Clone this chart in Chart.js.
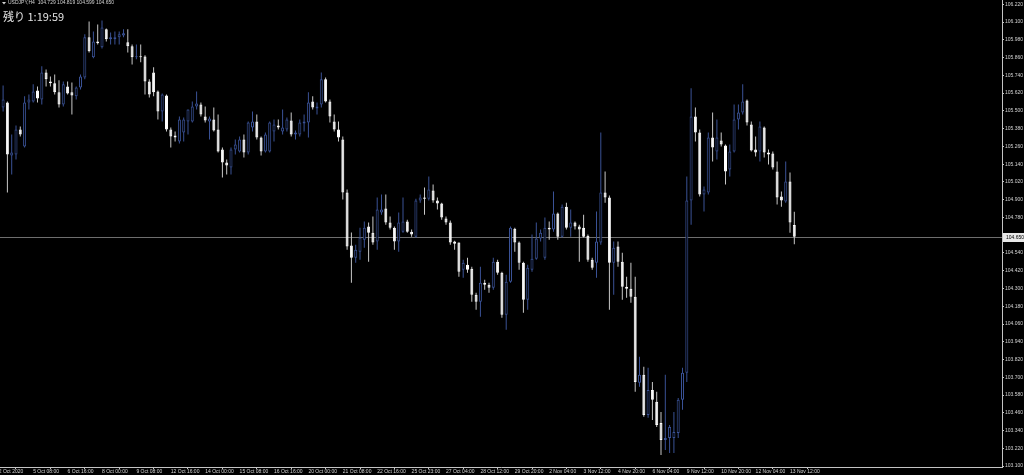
<!DOCTYPE html>
<html lang="ja">
<head>
  <meta charset="UTF-8" />
  <title>USDJPY,H4</title>
  <script src="https://cdn.jsdelivr.net/npm/chart.js"></script>
  <style>
    body {
      margin: 0;
      background: #000;
      overflow: hidden;
    }
    canvas {
      display: block;
    }
  </style>
</head>
<body>
  <canvas id="chart" width="1024" height="475"></canvas>

  <script>
    // USDJPY H4 candles, bar index 1 .. 185 (bar 0 is off the left edge)
    const firstBar = 1;

    const opens = [
      105.523, 105.557, 105.198, 105.205, 105.374, 105.259, 105.557, 105.563, 105.638, 105.577,
      105.760, 105.699, 105.686, 105.625, 105.543, 105.665, 105.625, 105.598, 105.658, 105.726,
      105.997, 105.862, 105.969, 105.929, 106.051, 105.983, 105.983, 105.997, 106.010, 105.963,
      105.936, 105.862, 105.868, 105.868, 105.699, 105.760, 105.631, 105.496, 105.604, 105.374,
      105.334, 105.293, 105.354, 105.428, 105.428, 105.530, 105.543, 105.462, 105.428, 105.442,
      105.374, 105.239, 105.151, 105.117, 105.239, 105.225, 105.307, 105.219, 105.388, 105.428,
      105.320, 105.225, 105.225, 105.361, 105.401, 105.361, 105.374, 105.435, 105.340, 105.340,
      105.415, 105.421, 105.563, 105.516, 105.543, 105.713, 105.563, 105.428, 105.374, 105.307,
      104.948, 104.590, 104.508, 104.549, 104.630, 104.718, 104.677, 104.617, 104.813, 104.840,
      104.745, 104.711, 104.617, 104.684, 104.752, 104.684, 104.650, 104.894, 104.914, 104.907,
      104.962, 104.894, 104.874, 104.772, 104.745, 104.617, 104.610, 104.427, 104.461, 104.434,
      104.258, 104.211, 104.339, 104.326, 104.305, 104.481, 104.407, 104.123, 104.346, 104.704,
      104.610, 104.474, 104.224, 104.427, 104.501, 104.637, 104.508, 104.711, 104.698, 104.806,
      104.650, 104.853, 104.711, 104.745, 104.718, 104.711, 104.657, 104.495, 104.474, 104.610,
      104.948, 104.914, 104.474, 104.583, 104.481, 104.312, 104.299, 104.245, 103.663, 103.717,
      103.446, 103.615, 103.534, 103.392, 103.277, 103.290, 103.290, 103.324, 103.548, 103.730,
      104.894, 105.462, 105.354, 104.935, 104.948, 105.320, 105.225, 105.300, 105.266, 105.104,
      105.225, 105.442, 105.489, 105.570, 105.408, 105.239, 105.225, 105.388, 105.219, 105.212,
      105.090, 104.921, 104.887, 105.022, 104.729
    ];

    const highs = [
      105.672, 105.563, 105.340, 105.401, 105.394, 105.598, 105.611, 105.679, 105.665, 105.801,
      105.780, 105.733, 105.746, 105.706, 105.699, 105.699, 105.692, 105.665, 105.746, 106.017,
      106.104, 106.037, 106.084, 106.111, 106.057, 106.030, 106.037, 106.037, 106.051, 106.051,
      105.949, 105.949, 105.949, 105.875, 105.713, 105.794, 105.638, 105.618, 105.611, 105.388,
      105.361, 105.462, 105.455, 105.510, 105.563, 105.631, 105.557, 105.530, 105.462, 105.523,
      105.476, 105.252, 105.171, 105.252, 105.307, 105.327, 105.340, 105.428, 105.496, 105.476,
      105.327, 105.354, 105.428, 105.442, 105.442, 105.510, 105.455, 105.489, 105.367, 105.442,
      105.476, 105.625, 105.598, 105.557, 105.760, 105.726, 105.577, 105.476, 105.428, 105.327,
      104.968, 104.678, 104.596, 104.711, 104.752, 104.745, 104.786, 104.914, 104.935, 104.935,
      104.786, 104.718, 104.813, 104.914, 104.765, 104.698, 104.907, 104.935, 104.982, 105.056,
      105.002, 104.914, 104.880, 104.786, 104.759, 104.623, 104.610, 104.495, 104.508, 104.447,
      104.272, 104.447, 104.359, 104.339, 104.508, 104.495, 104.413, 104.393, 104.718, 104.711,
      104.617, 104.481, 104.461, 104.664, 104.745, 104.698, 104.779, 104.752, 104.955, 104.813,
      104.867, 104.880, 104.833, 104.752, 104.731, 104.799, 104.664, 104.508, 104.820, 105.354,
      105.090, 104.928, 104.617, 104.617, 104.542, 104.380, 104.474, 104.380, 103.838, 103.771,
      103.764, 103.669, 103.602, 103.466, 103.717, 103.378, 103.466, 103.561, 103.764, 105.056,
      105.652, 105.523, 105.374, 104.989, 105.354, 105.489, 105.442, 105.354, 105.273, 105.273,
      105.543, 105.543, 105.679, 105.577, 105.428, 105.327, 105.428, 105.394, 105.239, 105.225,
      105.158, 104.955, 105.158, 105.083, 104.819
    ];

    const lows = [
      105.496, 104.948, 105.070, 105.171, 105.327, 105.252, 105.510, 105.557, 105.557, 105.543,
      105.665, 105.665, 105.611, 105.523, 105.530, 105.611, 105.476, 105.577, 105.645, 105.713,
      105.895, 105.855, 105.949, 105.922, 105.969, 105.949, 105.949, 105.949, 105.997, 105.895,
      105.814, 105.848, 105.828, 105.611, 105.591, 105.598, 105.442, 105.428, 105.361, 105.252,
      105.293, 105.279, 105.293, 105.340, 105.421, 105.510, 105.462, 105.421, 105.307, 105.361,
      105.219, 105.050, 105.070, 105.070, 105.205, 105.219, 105.185, 105.205, 105.361, 105.307,
      105.198, 105.219, 105.219, 105.293, 105.374, 105.340, 105.361, 105.327, 105.307, 105.327,
      105.361, 105.320, 105.510, 105.476, 105.523, 105.557, 105.421, 105.361, 105.293, 104.901,
      104.562, 104.339, 104.474, 104.495, 104.576, 104.481, 104.596, 104.562, 104.799, 104.731,
      104.698, 104.562, 104.549, 104.677, 104.677, 104.650, 104.644, 104.880, 104.799, 104.894,
      104.880, 104.833, 104.765, 104.731, 104.596, 104.562, 104.380, 104.373, 104.407, 104.211,
      104.156, 104.109, 104.292, 104.272, 104.292, 104.393, 104.102, 104.021, 104.339, 104.549,
      104.427, 104.136, 104.156, 104.413, 104.495, 104.617, 104.495, 104.630, 104.684, 104.630,
      104.644, 104.698, 104.650, 104.698, 104.481, 104.644, 104.481, 104.427, 104.373, 104.596,
      104.880, 104.156, 104.258, 104.447, 104.224, 104.238, 104.204, 103.602, 103.636, 103.433,
      103.426, 103.412, 103.365, 103.175, 103.209, 103.189, 103.189, 103.290, 103.480, 103.669,
      104.731, 105.293, 104.921, 104.820, 104.935, 105.158, 105.171, 105.259, 105.002, 105.056,
      105.219, 105.374, 105.476, 105.401, 105.225, 105.192, 105.158, 105.185, 105.137, 105.104,
      104.867, 104.853, 104.880, 104.677, 104.599
    ];

    const closes = [
      105.577, 105.205, 105.219, 105.374, 105.340, 105.557, 105.577, 105.631, 105.584, 105.760,
      105.713, 105.686, 105.625, 105.543, 105.679, 105.618, 105.604, 105.658, 105.733, 105.997,
      105.902, 105.969, 105.956, 106.064, 105.983, 105.997, 105.997, 106.017, 106.024, 105.936,
      105.862, 105.868, 105.862, 105.699, 105.611, 105.625, 105.496, 105.611, 105.374, 105.327,
      105.320, 105.442, 105.442, 105.510, 105.530, 105.550, 105.476, 105.435, 105.449, 105.367,
      105.225, 105.151, 105.131, 105.239, 105.273, 105.307, 105.219, 105.421, 105.428, 105.320,
      105.225, 105.340, 105.421, 105.408, 105.388, 105.388, 105.442, 105.340, 105.354, 105.421,
      105.428, 105.557, 105.523, 105.530, 105.713, 105.563, 105.462, 105.374, 105.320, 104.948,
      104.583, 104.508, 104.562, 104.644, 104.711, 104.677, 104.610, 104.833, 104.833, 104.745,
      104.711, 104.617, 104.745, 104.752, 104.684, 104.664, 104.894, 104.914, 104.907, 104.968,
      104.894, 104.874, 104.779, 104.745, 104.610, 104.603, 104.413, 104.474, 104.427, 104.258,
      104.211, 104.339, 104.326, 104.305, 104.481, 104.407, 104.123, 104.346, 104.711, 104.610,
      104.474, 104.224, 104.440, 104.501, 104.637, 104.677, 104.711, 104.698, 104.806, 104.650,
      104.853, 104.711, 104.745, 104.718, 104.698, 104.650, 104.495, 104.440, 104.617, 104.948,
      104.914, 104.474, 104.576, 104.481, 104.312, 104.299, 104.245, 103.669, 103.717, 103.446,
      103.615, 103.548, 103.378, 103.277, 103.290, 103.365, 103.331, 103.548, 103.730, 104.894,
      105.462, 105.354, 104.935, 104.968, 105.320, 105.252, 105.320, 105.273, 105.090, 105.225,
      105.442, 105.489, 105.563, 105.421, 105.232, 105.219, 105.394, 105.219, 105.205, 105.117,
      104.914, 104.894, 105.022, 104.745, 104.650
    ];

    // time axis: one label every 8 bars, starting at bar 0
    const timeLabels = [
      '2 Oct 2020', '5 Oct 08:00', '6 Oct 16:00', '8 Oct 00:00', '9 Oct 08:00', '12 Oct 16:00',
      '14 Oct 00:00', '15 Oct 08:00', '16 Oct 16:00', '20 Oct 00:00', '21 Oct 08:00', '22 Oct 16:00',
      '25 Oct 23:00', '27 Oct 04:00', '28 Oct 12:00', '29 Oct 20:00', '2 Nov 04:00', '3 Nov 12:00',
      '4 Nov 20:00', '6 Nov 04:00', '9 Nov 12:00', '10 Nov 20:00', '12 Nov 04:00', '13 Nov 12:00'
    ];
    const labelEvery = 8;

    // price axis (104.660 sits under the bid box)
    const priceTicks = [
      106.220, 106.100, 105.980, 105.860, 105.740, 105.620, 105.500, 105.380, 105.260,
      105.140, 105.020, 104.900, 104.780, 104.540, 104.420, 104.300, 104.180, 104.060,
      103.940, 103.820, 103.700, 103.580, 103.460, 103.340, 103.220, 103.100
    ];

    const symbolLine = 'USDJPY,H4  104.729 104.819 104.599 104.650';
    const timerText = '残り 1:19:59';

    const upColor = '#3a5296';
    const downColor = '#ffffff';
    const axisColor = '#c4c4c4';
    const textColor = '#d2d2d2';
    const tickFont = { family: 'Liberation Sans', size: 5 };

    const bodies = [];
    const wicks = [];
    const bodyFill = [];
    const bodyLine = [];
    const wickColor = [];
    opens.forEach((o, k) => {
      const x = firstBar + k;
      const up = closes[k] >= o;
      bodies.push({ x, y: [o, closes[k]] });
      wicks.push({ x, y: [lows[k], highs[k]] });
      bodyFill.push(up ? '#000000' : downColor);
      bodyLine.push(up ? upColor : downColor);
      wickColor.push(up ? upColor : '#c8c8c8');
    });

    const xTicks = timeLabels.map((t, i) => i * labelEvery);

    const overlay = {
      id: 'overlay',
      beforeDatasetsDraw(chart) {
        const { ctx, chartArea, scales } = chart;
        const y = Math.round(scales.y.getPixelForValue(closes[closes.length - 1])) + 0.5;
        ctx.save();
        ctx.strokeStyle = '#6e6e6e';
        ctx.lineWidth = 1;
        ctx.beginPath();
        ctx.moveTo(chartArea.left, y);
        ctx.lineTo(chartArea.right, y);
        ctx.stroke();
        ctx.restore();
      },
      afterDraw(chart) {
        const { ctx, chartArea, scales } = chart;
        const last = closes[closes.length - 1];
        const y = Math.round(scales.y.getPixelForValue(last));
        ctx.save();
        // bid box on the price axis
        ctx.fillStyle = '#e8e8e8';
        ctx.fillRect(chartArea.right + 1, y - 4, chart.width - chartArea.right - 1, 9);
        ctx.fillStyle = '#000';
        ctx.font = '5px "Liberation Sans"';
        ctx.textBaseline = 'middle';
        ctx.fillText(last.toFixed(3), chartArea.right + 4, y + 0.5);

        // symbol line
        ctx.fillStyle = textColor;
        ctx.beginPath();
        ctx.moveTo(2, 2);
        ctx.lineTo(6, 2);
        ctx.lineTo(4, 4.5);
        ctx.closePath();
        ctx.fill();
        ctx.fillText(symbolLine, 8, 3);

        // bar timer
        ctx.fillStyle = '#e4e4e4';
        ctx.font = '11px "Noto Sans CJK JP"';
        ctx.fillText(timerText, 3, 17);
        ctx.restore();
      }
    };

    new Chart(document.getElementById('chart').getContext('2d'), {
      type: 'bar',
      data: {
        datasets: [
          {
            data: bodies,
            backgroundColor: bodyFill,
            borderColor: bodyLine,
            borderWidth: 1,
            borderSkipped: false,
            barThickness: 3,
            minBarLength: 1,
            inflateAmount: 0,
            grouped: false,
            order: 0
          },
          {
            data: wicks,
            backgroundColor: wickColor,
            borderWidth: 0,
            barThickness: 1,
            inflateAmount: 0,
            grouped: false,
            order: 1
          }
        ]
      },
      options: {
        responsive: false,
        animation: false,
        devicePixelRatio: 1,
        layout: { padding: 0 },
        plugins: {
          legend: { display: false },
          tooltip: { enabled: false }
        },
        scales: {
          x: {
            type: 'linear',
            min: 0.28,
            max: 233.3,
            offset: false,
            afterFit(s) {
              s.height = 8;
              s.paddingLeft = 0;
              s.paddingRight = 0;
            },
            afterBuildTicks(s) {
              s.ticks = xTicks.map(v => ({ value: v }));
            },
            grid: { drawOnChartArea: false, drawTicks: true, tickLength: 2, color: axisColor },
            border: { display: true, color: axisColor },
            ticks: {
              align: 'start',
              autoSkip: false,
              maxRotation: 0,
              padding: 0,
              color: textColor,
              font: tickFont,
              callback: (v, i) => timeLabels[i]
            }
          },
          y: {
            position: 'right',
            min: 103.094,
            max: 106.249,
            afterFit(s) {
              s.width = 22;
              s.paddingTop = 0;
              s.paddingBottom = 0;
            },
            afterBuildTicks(s) {
              s.ticks = priceTicks.map(v => ({ value: v }));
            },
            grid: { drawOnChartArea: false, drawTicks: true, tickLength: 2, color: axisColor },
            border: { display: true, color: axisColor },
            ticks: {
              padding: 1,
              color: textColor,
              font: tickFont,
              callback: v => v.toFixed(3)
            }
          }
        }
      },
      plugins: [overlay]
    });
  </script>
</body>
</html>
